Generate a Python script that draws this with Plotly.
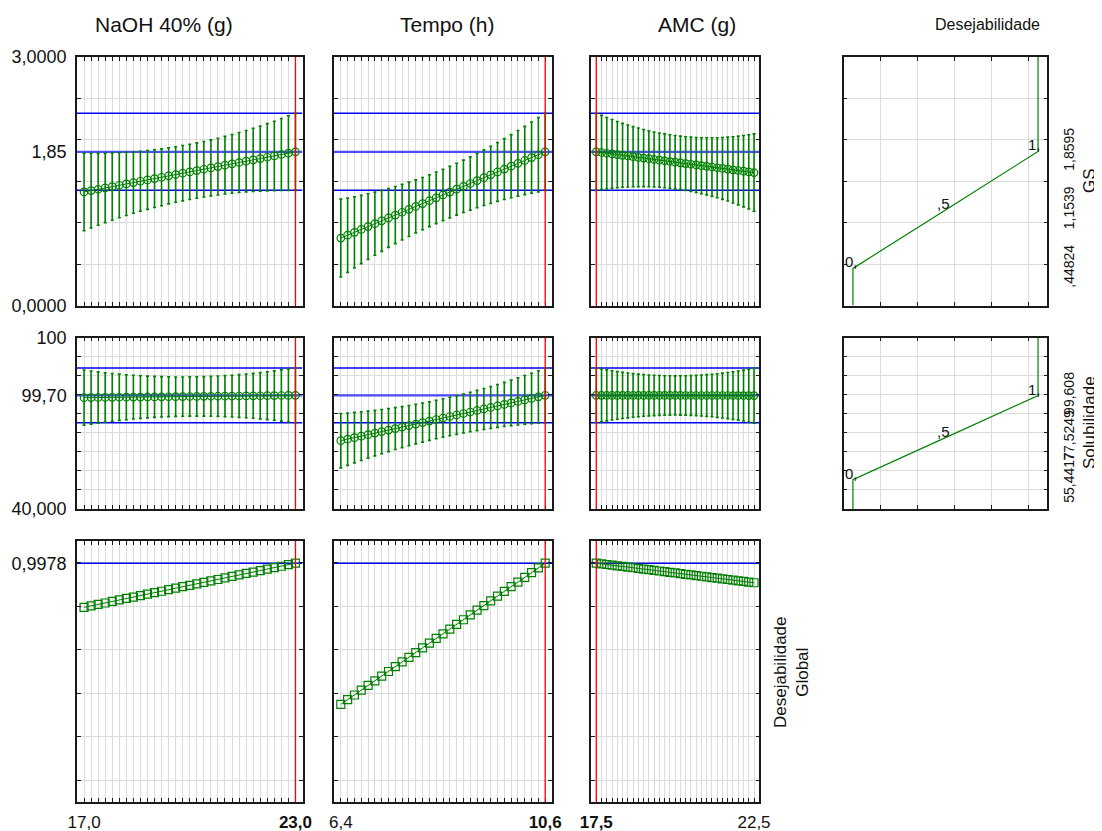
import plotly.graph_objects as go

W, H = 1102, 831
OX, OY = 8, 8   # page body margin of the html page
FONT = "Liberation Sans, Arial, sans-serif"
GREEN = "#008000"

# ---------------- factor grids ----------------
naoh = [17.0, 17.2, 17.4, 17.6, 17.8, 18.0, 18.2, 18.4, 18.6, 18.8, 19.0, 19.2, 19.4, 19.6, 19.8, 20.0,
        20.2, 20.4, 20.6, 20.8, 21.0, 21.2, 21.4, 21.6, 21.8, 22.0, 22.2, 22.4, 22.6, 22.8, 23.0]
tempo = [6.40, 6.54, 6.68, 6.82, 6.96, 7.10, 7.24, 7.38, 7.52, 7.66, 7.80, 7.94, 8.08, 8.22, 8.36, 8.50,
         8.64, 8.78, 8.92, 9.06, 9.20, 9.34, 9.48, 9.62, 9.76, 9.90, 10.04, 10.18, 10.32, 10.46, 10.60]
amc = [17.5, 17.667, 17.833, 18.0, 18.167, 18.333, 18.5, 18.667, 18.833, 19.0, 19.167, 19.333, 19.5,
       19.667, 19.833, 20.0, 20.167, 20.333, 20.5, 20.667, 20.833, 21.0, 21.167, 21.333, 21.5, 21.667,
       21.833, 22.0, 22.167, 22.333, 22.5]

factor_titles = ["NaOH 40% (g)", "Tempo (h)", "AMC (g)"]
current_settings = [23.0, 10.6, 17.5]
x_ends_text = [["17,0", "<b>23,0</b>"], ["6,4", "<b>10,6</b>"], ["<b>17,5</b>", "22,5"]]

# ---------------- GS (row 1) ----------------
gs_naoh = [1.371, 1.387, 1.403, 1.419, 1.436, 1.452, 1.468, 1.484, 1.500, 1.516, 1.532, 1.548, 1.565,
           1.581, 1.597, 1.613, 1.629, 1.645, 1.661, 1.677, 1.694, 1.710, 1.726, 1.742, 1.758, 1.774,
           1.790, 1.806, 1.823, 1.839, 1.855]
gs_naoh_err = [0.468, 0.451, 0.434, 0.419, 0.406, 0.393, 0.382, 0.371, 0.362, 0.355, 0.348, 0.343, 0.338,
               0.335, 0.334, 0.333, 0.334, 0.335, 0.338, 0.343, 0.348, 0.355, 0.362, 0.371, 0.382, 0.393,
               0.406, 0.419, 0.434, 0.451, 0.465]
gs_tempo = [0.814, 0.849, 0.883, 0.918, 0.953, 0.988, 1.022, 1.057, 1.092, 1.126, 1.161, 1.196, 1.230,
            1.265, 1.300, 1.335, 1.369, 1.404, 1.439, 1.473, 1.508, 1.543, 1.577, 1.612, 1.647, 1.682,
            1.716, 1.751, 1.786, 1.820, 1.855]
gs_tempo_err = [0.470, 0.449, 0.430, 0.412, 0.396, 0.381, 0.368, 0.355, 0.345, 0.336, 0.328, 0.321, 0.316,
                0.313, 0.311, 0.310, 0.311, 0.313, 0.316, 0.321, 0.328, 0.336, 0.345, 0.355, 0.368, 0.381,
                0.396, 0.412, 0.430, 0.449, 0.465]
gs_amc = [1.855, 1.847, 1.838, 1.830, 1.822, 1.813, 1.805, 1.797, 1.788, 1.780, 1.772, 1.763, 1.755,
          1.747, 1.738, 1.730, 1.722, 1.713, 1.705, 1.697, 1.688, 1.680, 1.672, 1.663, 1.655, 1.647,
          1.638, 1.630, 1.622, 1.613, 1.605]
gs_amc_err = [0.465, 0.448, 0.431, 0.415, 0.400, 0.386, 0.374, 0.363, 0.354, 0.345, 0.338, 0.332, 0.328,
              0.325, 0.323, 0.322, 0.323, 0.325, 0.328, 0.332, 0.338, 0.345, 0.354, 0.363, 0.374, 0.386,
              0.400, 0.415, 0.431, 0.448, 0.467]

# ---------------- Solubilidade (row 2) ----------------
sol_naoh = [98.50, 98.54, 98.58, 98.62, 98.66, 98.70, 98.74, 98.78, 98.82, 98.86, 98.90, 98.94, 98.98,
            99.02, 99.06, 99.10, 99.14, 99.18, 99.22, 99.26, 99.30, 99.34, 99.38, 99.42, 99.46, 99.50,
            99.54, 99.58, 99.62, 99.66, 99.70]
sol_naoh_err = [14.50, 13.96, 13.45, 12.99, 12.56, 12.16, 11.81, 11.49, 11.22, 10.97, 10.77, 10.60, 10.47,
                10.37, 10.32, 10.30, 10.32, 10.37, 10.47, 10.60, 10.77, 10.97, 11.22, 11.49, 11.81, 12.16,
                12.56, 12.99, 13.45, 13.96, 14.40]
sol_tempo = [75.90, 76.69, 77.49, 78.28, 79.07, 79.87, 80.66, 81.45, 82.25, 83.04, 83.83, 84.63, 85.42,
             86.21, 87.01, 87.80, 88.59, 89.39, 90.18, 90.97, 91.77, 92.56, 93.35, 94.15, 94.94, 95.73,
             96.53, 97.32, 98.11, 98.91, 99.70]
sol_tempo_err = [14.30, 13.76, 13.25, 12.79, 12.36, 11.96, 11.61, 11.29, 11.02, 10.77, 10.57, 10.40, 10.27,
                 10.17, 10.12, 10.10, 10.12, 10.17, 10.27, 10.40, 10.57, 10.77, 11.02, 11.29, 11.61, 11.96,
                 12.36, 12.79, 13.25, 13.76, 14.40]
sol_amc = [99.70, 99.70, 99.69, 99.69, 99.69, 99.68, 99.68, 99.68, 99.67, 99.67, 99.67, 99.66, 99.66,
           99.66, 99.65, 99.65, 99.65, 99.64, 99.64, 99.64, 99.63, 99.63, 99.63, 99.62, 99.62, 99.62,
           99.61, 99.61, 99.61, 99.60, 99.60]
sol_amc_err = [14.40, 13.87, 13.38, 12.92, 12.51, 12.12, 11.78, 11.46, 11.19, 10.96, 10.76, 10.59, 10.46,
               10.37, 10.32, 10.30, 10.32, 10.37, 10.46, 10.59, 10.76, 10.96, 11.19, 11.46, 11.78, 12.12,
               12.51, 12.92, 13.38, 13.87, 14.50]

# ---------------- Desejabilidade Global (row 3) ----------------
dg_naoh = [0.795, 0.802, 0.809, 0.815, 0.822, 0.829, 0.836, 0.842, 0.849, 0.856, 0.863, 0.869, 0.876,
           0.883, 0.890, 0.896, 0.903, 0.910, 0.917, 0.923, 0.930, 0.937, 0.944, 0.951, 0.957, 0.964,
           0.971, 0.978, 0.984, 0.991, 0.998]
dg_tempo = [0.349, 0.371, 0.392, 0.414, 0.436, 0.457, 0.479, 0.500, 0.522, 0.544, 0.565, 0.587, 0.609,
            0.630, 0.652, 0.673, 0.695, 0.717, 0.738, 0.760, 0.782, 0.803, 0.825, 0.847, 0.868, 0.890,
            0.911, 0.933, 0.955, 0.976, 0.998]
dg_amc = [0.998, 0.995, 0.992, 0.989, 0.986, 0.983, 0.980, 0.977, 0.974, 0.971, 0.968, 0.965, 0.962,
          0.959, 0.956, 0.953, 0.950, 0.947, 0.944, 0.941, 0.938, 0.935, 0.932, 0.929, 0.926, 0.923,
          0.920, 0.917, 0.914, 0.911, 0.908]
dg_current = 0.9978

# ---------------- desirability functions (column 4) ----------------
desir_levels = [0.0, 0.0, 0.5, 1.0, 1.0]
gs_desir_resp = [0.0, 0.44824, 1.1539, 1.8595, 3.0]
sol_desir_resp = [40.0, 55.4417, 77.5249, 99.608, 130.0]
desir_point_labels = ["0,", ",5", "1,"]
gs_right_labels = [",44824", "1,1539", "1,8595"]
sol_right_labels = ["55,4417", "77,5249", "99,608"]

# ---------------- axis settings ----------------
row_ranges = [[0.0, 3.0], [40.0, 130.0], [-0.1, 1.1]]
row_grid = [[0.5, 1.0, 1.5, 2.0, 2.5], [50, 60, 70, 80, 90, 100, 110, 120], [0.0, 0.2, 0.4, 0.6, 0.8, 1.0]]
row_left_vals = [[3.0, 1.855, 0.0], [130.0, 99.70, 40.0], [0.9978]]
row_left_text = [["3,0000", "1,85", "0,0000"], ["100", "99,70", "40,000"], ["0,9978"]]
col_ranges = [[16.8, 23.2], [6.26, 10.74], [17.333, 22.667], [-0.05, 1.05]]
desir_grid = [0.15, 0.35, 0.55, 0.75, 0.95]

col_px = [(77, 302.5), (334, 552), (591, 759.3), (843.7, 1047.3)]
row_px = [(57, 305.5), (337.7, 509), (541, 802)]

xs = [naoh, tempo, amc]
means = [[gs_naoh, gs_tempo, gs_amc], [sol_naoh, sol_tempo, sol_amc], [dg_naoh, dg_tempo, dg_amc]]
errs = [[gs_naoh_err, gs_tempo_err, gs_amc_err], [sol_naoh_err, sol_tempo_err, sol_amc_err], [None, None, None]]

fig = go.Figure()
layout = {}
shapes = []
annotations = []

def px_x(p):
    return (p - OX) / W

def px_y(p):
    return 1 - (p - OY) / H

def xdom(c):
    a, b = col_px[c]
    return [px_x(a), px_x(b)]

def ydom(r):
    t, b = row_px[r]
    return [px_y(b), px_y(t)]

def ref(k):
    return ("x" if k == 1 else f"x{k}"), ("y" if k == 1 else f"y{k}")

def frame_axis(rng, dom, anchor, minor_vals):
    return dict(range=rng, domain=dom, anchor=anchor, showline=True, linecolor="#1a1a1a", linewidth=1.5,
                mirror="allticks", zeroline=False, showgrid=False, ticks="", fixedrange=True,
                minor=dict(tickmode="array", tickvals=minor_vals, ticks="inside", ticklen=4, tickwidth=1,
                           tickcolor="#1a1a1a", showgrid=True, gridcolor="#dcdcdc", gridwidth=1.3))

k = 0
for r in range(3):
    for c in range(4):
        if r == 2 and c == 3:
            continue
        k += 1
        xr, yr = ref(k)
        xkey = "xaxis" if k == 1 else f"xaxis{k}"
        ykey = "yaxis" if k == 1 else f"yaxis{k}"
        xminor = desir_grid if c == 3 else xs[c]
        xa = frame_axis(col_ranges[c], xdom(c), yr, xminor)
        ya = frame_axis(row_ranges[r], ydom(r), xr, row_grid[r])
        if r == 2:
            xa.update(tickmode="array", tickvals=[xs[c][0], xs[c][-1]], ticktext=x_ends_text[c],
                      showticklabels=True, tickfont=dict(family=FONT, size=17, color="#111"),
                      ticklabelstandoff=4)
        else:
            xa.update(showticklabels=False)
        if c == 0:
            ya.update(tickmode="array", tickvals=row_left_vals[r], ticktext=row_left_text[r],
                      showticklabels=True, tickfont=dict(family=FONT, size=18, color="#111"),
                      ticklabelstandoff=5)
        elif c == 3:
            vals = gs_desir_resp[1:4] if r == 0 else sol_desir_resp[1:4]
            txt = gs_right_labels if r == 0 else sol_right_labels
            ya.update(side="right", tickmode="array", tickvals=vals, ticktext=txt, tickangle=-90,
                      showticklabels=True, tickfont=dict(family=FONT, size=14, color="#111"),
                      ticklabelstandoff=8)
        else:
            ya.update(showticklabels=False)
        layout[xkey] = xa
        layout[ykey] = ya

        if c < 3:
            xv = xs[c]
            yv = means[r][c]
            ev = errs[r][c]
            xspan = col_ranges[c]
            if r < 2:
                idx = xv.index(current_settings[c])
                center = yv[idx]
                ci = ev[idx]
                for yy, wdt, col in [(center + ci, 1.5, "#0000ee"), (center, 2.2, "#4d4dff"), (center - ci, 1.5, "#0000ee")]:
                    fig.add_trace(go.Scatter(x=xspan, y=[yy, yy], xaxis=xr, yaxis=yr, mode="lines",
                                             line=dict(color=col, width=wdt), showlegend=False, hoverinfo="skip"))
                fig.add_trace(go.Scatter(
                    x=xv, y=yv, xaxis=xr, yaxis=yr, mode="lines+markers",
                    line=dict(color=GREEN, width=1),
                    marker=dict(symbol="circle-open", size=7.5, color=GREEN, line=dict(width=1.2)),
                    error_y=dict(type="data", array=ev, visible=True, color=GREEN, thickness=1.6, width=1.5),
                    showlegend=False, hoverinfo="skip"))
            else:
                fig.add_trace(go.Scatter(x=xspan, y=[dg_current, dg_current], xaxis=xr, yaxis=yr, mode="lines",
                                         line=dict(color="#0000ee", width=1.5), showlegend=False, hoverinfo="skip"))
                fig.add_trace(go.Scatter(
                    x=xv, y=yv, xaxis=xr, yaxis=yr, mode="lines+markers",
                    line=dict(color=GREEN, width=1),
                    marker=dict(symbol="square-open", size=8, color=GREEN, line=dict(width=1.2)),
                    showlegend=False, hoverinfo="skip"))
            shapes.append(dict(type="line", xref=xr, yref=f"{yr} domain", x0=current_settings[c],
                               x1=current_settings[c], y0=0, y1=1, line=dict(color="#ff0000", width=1.3),
                               layer="above"))
        else:
            resp = gs_desir_resp if r == 0 else sol_desir_resp
            fig.add_trace(go.Scatter(x=desir_levels, y=resp, xaxis=xr, yaxis=yr, mode="lines",
                                     line=dict(color=GREEN, width=1.2), showlegend=False, hoverinfo="skip"))
            for i, lab in enumerate(desir_point_labels):
                annotations.append(dict(x=desir_levels[i + 1], y=resp[i + 1], xref=xr, yref=yr, text=lab,
                                        showarrow=False, xanchor="right" if i == 2 else ("left" if i == 0 else "center"),
                                        xshift=5 if i == 2 else (-10 if i == 0 else -2), yanchor="bottom", yshift=-4,
                                        font=dict(family=FONT, size=15, color="#111")))

# ---------------- titles ----------------
for txt, px in zip(factor_titles, [164, 447, 697]):
    annotations.append(dict(x=px_x(px), y=px_y(24), xref="paper", yref="paper", text=txt, showarrow=False,
                            xanchor="center", yanchor="middle", font=dict(family=FONT, size=21, color="#111")))
annotations.append(dict(x=px_x(987), y=px_y(24), xref="paper", yref="paper", text="Desejabilidade",
                        showarrow=False, xanchor="center", yanchor="middle",
                        font=dict(family=FONT, size=16, color="#111")))
annotations.append(dict(x=px_x(1089), y=px_y(181), xref="paper", yref="paper", text="GS", textangle=-90,
                        showarrow=False, xanchor="center", yanchor="middle",
                        font=dict(family=FONT, size=17, color="#111")))
annotations.append(dict(x=px_x(1089), y=px_y(423), xref="paper", yref="paper", text="Solubilidade",
                        textangle=-90, showarrow=False, xanchor="center", yanchor="middle",
                        font=dict(family=FONT, size=17, color="#111")))
annotations.append(dict(x=px_x(791), y=px_y(672), xref="paper", yref="paper", text="Desejabilidade<br>Global",
                        textangle=-90, showarrow=False, xanchor="center", yanchor="middle",
                        font=dict(family=FONT, size=17, color="#111")))

fig.update_layout(**layout)
fig.update_layout(width=W, height=H, margin=dict(l=0, r=0, t=0, b=0, autoexpand=False), paper_bgcolor="white",
                  plot_bgcolor="white", shapes=shapes, annotations=annotations, showlegend=False)
fig.write_html("out.html")
